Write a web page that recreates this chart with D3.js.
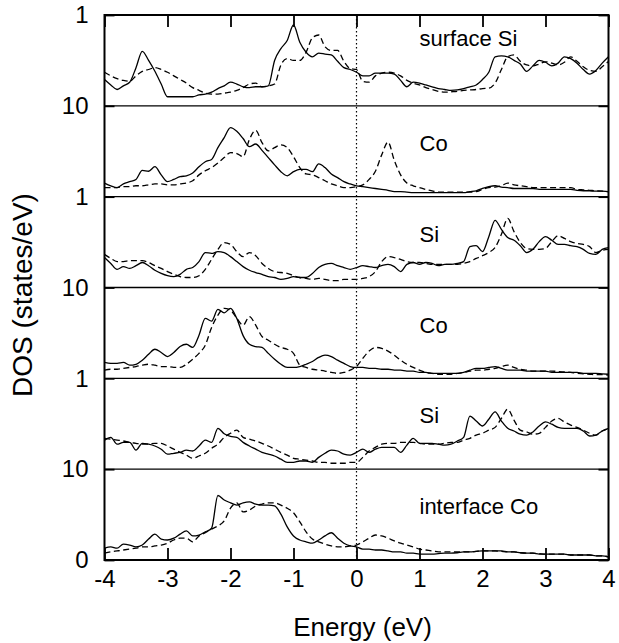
<!DOCTYPE html>
<html>
<head>
<meta charset="utf-8">
<script src="https://cdn.jsdelivr.net/npm/d3@7"></script>
<style>
  body { margin: 0; background: #fff; }
  text { font-family: "Liberation Sans", Arial, Helvetica, sans-serif; fill: #000; }
</style>
</head>
<body>
<div id="plot"></div>
<script>
// energy grid (eV)
var energy = [-4.0,-3.9,-3.8,-3.7,-3.6,-3.5,-3.4,-3.3,-3.2,-3.1,
  -3.0,-2.9,-2.8,-2.7,-2.6,-2.5,-2.4,-2.3,-2.2,-2.1,
  -2.0,-1.9,-1.8,-1.7,-1.6,-1.5,-1.4,-1.3,-1.2,-1.1,
  -1.0,-0.9,-0.8,-0.7,-0.6,-0.5,-0.4,-0.3,-0.2,-0.1,
  0.0,0.1,0.2,0.3,0.4,0.5,0.6,0.7,0.8,0.9,
  1.0,1.1,1.2,1.3,1.4,1.5,1.6,1.7,1.8,1.9,
  2.0,2.1,2.2,2.3,2.4,2.5,2.6,2.7,2.8,2.9,
  3.0,3.1,3.2,3.3,3.4,3.5,3.6,3.7,3.8,3.9,
  4.0];

var panelNames = ["surface Si", "Co", "Si", "Co", "Si", "interface Co"];
var xTicks = [-4, -3, -2, -1, 0, 1, 2, 3, 4];
var yTicks = [0, 10, 20, 30, 40, 50, 60];
var yTickLabels = ["0", "10", "1", "10", "1", "10", "1"];

// DOS per panel (states/eV), solid and dashed curves
var surfSiSolid = [2.9,2.3,1.8,2.2,2.6,4.2,6.0,5.0,3.8,2.4,
  1.0,1.0,1.0,1.0,1.0,1.2,1.3,1.5,1.9,2.2,
  2.6,2.4,2.1,2.0,2.1,2.1,2.2,5.0,6.3,7.2,
  8.9,7.0,5.9,5.4,5.8,5.7,5.6,4.9,4.2,4.0,
  3.7,3.3,3.3,3.6,3.6,3.6,3.5,2.8,2.1,2.6,
  2.5,2.3,2.1,1.9,1.8,1.7,1.75,1.9,2.1,2.3,
  2.9,3.7,5.4,5.5,5.4,5.0,4.6,3.8,4.4,5.0,
  4.8,4.4,4.7,5.4,5.2,4.7,4.0,3.5,3.9,4.7,
  5.4];
var surfSiDashed = [3.7,3.3,3.0,2.8,2.7,3.3,3.8,4.0,4.2,4.0,
  3.7,3.3,2.9,2.5,2.0,1.7,1.4,1.3,1.3,1.4,
  1.5,1.7,2.0,2.4,2.5,2.1,2.2,2.4,4.5,5.2,
  5.0,5.0,5.9,7.5,7.8,6.5,6.1,6.1,4.9,4.1,
  4.0,2.7,2.6,3.3,3.6,3.7,3.6,3.3,2.8,2.5,
  2.3,2.0,1.8,1.6,1.5,1.55,1.6,1.7,1.75,1.8,
  1.9,1.95,2.5,4.0,5.4,5.6,4.9,4.5,4.4,4.6,
  4.85,4.7,4.5,4.8,5.4,4.9,4.3,3.9,3.8,4.3,
  4.9];

var coTopSolid = [1.5,1.2,1.0,1.4,1.65,1.9,2.9,2.8,3.3,2.4,
  1.65,1.9,2.2,2.3,2.6,3.3,3.85,4.1,5.4,6.5,
  7.6,7.2,6.4,5.5,5.8,5.1,4.3,3.5,2.75,2.3,
  2.75,3.0,3.0,2.75,3.6,3.2,2.5,2.1,1.65,1.4,
  1.2,1.1,1.0,0.9,0.8,0.7,0.55,0.55,0.5,0.45,
  0.45,0.45,0.45,0.45,0.45,0.45,0.45,0.45,0.55,0.65,
  0.9,1.1,1.2,1.05,1.0,0.9,0.9,0.9,0.9,0.8,
  0.8,0.8,0.8,0.8,0.8,0.7,0.65,0.65,0.6,0.6,
  0.55];
var coTopDashed = [1.0,1.0,1.0,1.1,1.1,1.2,1.2,1.3,1.4,1.4,
  1.3,1.3,1.4,1.5,1.75,2.4,2.85,3.2,3.7,4.3,
  4.85,4.75,4.4,6.3,7.3,5.95,5.05,5.4,5.7,5.4,
  4.4,3.2,2.5,2.4,2.1,1.75,1.4,1.2,1.0,1.0,
  1.1,1.3,1.9,2.8,4.6,6.0,4.0,2.4,1.5,1.2,
  1.0,0.8,0.65,0.5,0.5,0.5,0.5,0.5,0.5,0.55,
  0.8,1.0,1.05,1.2,1.5,1.3,1.2,1.1,1.0,1.0,
  1.0,1.0,1.0,1.0,1.0,0.8,0.75,0.7,0.65,0.6,
  0.55];

var siMidSolid = [3.3,2.65,2.0,2.3,2.1,2.4,2.75,2.4,1.9,1.55,
  1.3,1.2,1.45,2.0,2.2,2.85,3.85,3.75,3.95,3.85,
  3.4,2.85,2.3,1.9,1.65,1.45,1.2,1.1,0.9,1.0,
  1.2,1.1,1.1,1.55,2.2,2.55,2.65,2.4,2.2,2.0,
  2.2,2.4,2.3,2.2,2.4,2.55,2.3,1.75,2.55,2.75,
  2.55,2.75,2.65,2.4,2.55,2.55,2.65,2.85,4.5,4.6,
  3.95,5.6,7.4,6.4,5.5,5.2,4.6,3.85,4.2,5.05,
  5.6,5.2,4.75,4.75,4.6,4.5,4.2,3.75,3.65,4.2,
  4.4];
var siMidDashed = [3.65,3.2,2.85,2.85,2.95,2.95,2.95,2.75,2.4,2.1,
  1.75,1.45,1.2,1.1,1.1,1.3,2.0,3.1,4.2,4.95,
  4.75,3.95,3.4,3.85,3.5,2.65,2.1,1.75,1.65,1.55,
  1.3,1.1,1.0,0.9,1.0,0.9,0.75,0.75,0.9,0.9,
  0.9,1.0,1.2,1.75,2.85,3.4,3.3,3.1,2.85,2.75,
  2.75,2.65,2.55,2.55,2.55,2.55,2.55,2.65,2.85,3.2,
  3.5,3.85,4.4,5.85,7.6,6.15,4.95,4.3,4.2,4.2,
  4.3,5.05,5.7,5.4,5.05,4.85,4.75,4.5,3.85,4.1,
  4.2];

var coMidSolid = [1.75,1.65,1.65,1.75,1.45,1.55,2.0,2.65,3.2,2.85,
  2.4,2.85,3.5,3.75,3.4,4.75,6.6,6.3,7.6,7.2,
  7.7,6.6,4.7,3.75,3.5,3.4,2.75,2.1,1.55,1.2,
  1.2,1.3,1.55,1.85,2.3,2.55,2.4,2.0,1.65,1.3,
  1.2,1.2,1.1,1.1,1.0,1.0,0.9,0.9,0.8,0.8,
  0.65,0.65,0.55,0.55,0.55,0.55,0.55,0.65,0.9,1.1,
  1.1,1.2,1.3,1.1,0.9,0.9,0.9,0.8,0.8,0.8,
  0.8,0.65,0.65,0.65,0.65,0.65,0.55,0.55,0.55,0.5,
  0.45];
var coMidDashed = [0.9,1.0,1.0,1.1,1.2,1.3,1.45,1.55,1.45,1.3,
  1.3,1.2,1.2,1.55,2.1,2.75,3.65,5.6,6.95,7.7,
  7.5,6.6,5.85,6.8,5.85,4.6,4.2,3.75,3.4,3.2,
  2.75,1.45,1.2,1.0,0.9,0.8,0.65,0.55,0.65,0.9,
  1.3,2.2,3.0,3.4,3.3,3.0,2.55,2.0,1.55,1.2,
  0.9,0.65,0.55,0.45,0.45,0.45,0.55,0.65,0.8,0.9,
  0.9,1.0,1.1,1.3,1.45,1.2,1.0,0.9,0.8,0.8,
  0.8,0.8,0.75,0.7,0.65,0.55,0.5,0.45,0.4,0.4,
  0.35];

var siLowSolid = [3.2,3.5,2.75,2.95,2.95,2.1,2.85,2.75,2.55,2.2,
  1.65,1.75,1.85,2.1,2.0,2.55,3.2,2.95,4.5,3.9,
  3.6,3.5,2.95,2.55,2.2,1.85,1.65,1.45,1.1,0.75,
  0.75,0.9,0.9,0.75,1.3,1.75,2.1,2.0,1.65,1.55,
  1.85,2.2,1.85,2.2,2.4,2.4,2.4,1.85,2.65,3.4,
  2.85,2.85,2.85,2.75,2.65,2.75,3.1,3.5,5.85,5.3,
  4.75,5.5,6.3,5.3,4.5,4.2,3.85,3.75,4.1,4.75,
  5.2,4.95,4.6,4.5,4.5,4.5,4.2,3.65,3.75,4.2,
  4.5];
var siLowDashed = [3.4,3.3,3.2,3.1,2.95,2.85,2.75,2.75,2.85,2.85,
  2.55,2.2,1.85,1.55,1.2,1.45,1.75,2.3,2.75,3.5,
  3.95,4.3,3.5,3.3,3.1,2.85,2.55,2.2,1.85,1.55,
  1.2,1.1,1.0,0.9,0.75,0.75,0.65,0.65,0.65,0.75,
  0.75,1.3,2.0,2.4,2.75,2.85,2.85,2.95,2.95,2.95,
  2.85,2.75,2.75,2.75,2.85,2.95,2.95,3.2,3.4,3.75,
  3.95,4.3,4.6,5.6,6.6,5.4,4.3,4.1,3.85,3.95,
  4.6,5.3,5.6,5.2,4.85,4.6,4.3,3.95,3.75,4.2,
  4.5];

var ifCoSolid = [1.3,1.45,1.3,1.75,1.65,1.45,1.65,2.3,2.85,2.3,
  2.2,2.4,2.85,3.2,2.65,2.75,3.1,3.5,7.1,6.6,
  6.3,6.05,6.3,6.4,6.15,6.05,6.05,5.95,5.05,3.65,
  2.65,2.2,2.0,1.85,2.2,2.65,3.0,2.4,1.85,1.55,
  1.45,1.2,1.2,1.1,1.1,1.0,0.9,0.9,0.75,0.75,
  0.65,0.65,0.65,0.7,0.75,0.75,0.8,0.9,0.9,0.95,
  1.0,1.0,1.0,1.0,0.9,0.9,0.8,0.75,0.75,0.65,
  0.65,0.65,0.65,0.65,0.55,0.55,0.55,0.55,0.45,0.45,
  0.35];
var ifCoDashed = [0.75,0.9,1.0,1.1,1.2,1.3,1.45,1.45,1.55,1.65,
  1.85,2.2,2.4,2.4,2.0,2.65,3.0,3.4,3.75,4.3,
  5.7,6.3,5.3,5.5,5.95,6.15,6.3,6.3,6.05,5.7,
  5.2,4.2,3.1,2.3,2.0,1.75,1.55,1.45,1.45,1.55,
  1.65,2.0,2.4,2.75,2.65,2.4,2.1,1.85,1.65,1.45,
  1.2,1.1,1.0,0.9,0.9,0.9,0.9,0.9,0.9,0.95,
  1.0,1.0,1.0,0.95,0.9,0.9,0.8,0.75,0.75,0.7,
  0.65,0.65,0.65,0.65,0.55,0.55,0.55,0.55,0.45,0.45,
  0.35];

var solidSeries = [surfSiSolid, coTopSolid, siMidSolid, coMidSolid, siLowSolid, ifCoSolid];
var dashedSeries = [surfSiDashed, coTopDashed, siMidDashed, coMidDashed, siLowDashed, ifCoDashed];

// svg bounds
var margin = {top: 15, right: 10.5, bottom: 83, left: 104.5};
var width = 619 - margin.left - margin.right;
var height = 643 - margin.top - margin.bottom;

var svg = d3.select("#plot").append("svg")
    .attr("width", 619)
    .attr("height", 643)
  .append("g")
    .attr("transform", "translate(" + margin.left + "," + margin.top + ")");

var xScale = d3.scaleLinear().domain([-4, 4]).range([0, width]);
// panels are stacked with an offset of 10 states/eV each
var yScale = d3.scaleLinear().domain([0, 60]).range([height, 0]);
var nPanels = panelNames.length;

function offset(i) { return (nPanels - 1 - i) * 10; }

// panel separators
svg.selectAll(".sep")
    .data(yTicks.slice(1, -1))
    .enter().append("line")
    .attr("x1", 0).attr("x2", width)
    .attr("y1", function(d) { return yScale(d); })
    .attr("y2", function(d) { return yScale(d); })
    .attr("stroke", "#000").attr("stroke-width", 1.3);

// Fermi level
svg.append("line")
    .attr("x1", xScale(0)).attr("x2", xScale(0))
    .attr("y1", 0).attr("y2", height)
    .attr("stroke", "#000").attr("stroke-width", 1.2)
    .attr("stroke-dasharray", "1.5,2.5");

// curves
var line = d3.line()
    .x(function(d, i) { return xScale(energy[i]); })
    .curve(d3.curveMonotoneX);

solidSeries.forEach(function(s, i) {
  svg.append("path")
      .datum(s)
      .attr("fill", "none").attr("stroke", "#000").attr("stroke-width", 1.3)
      .attr("d", line.y(function(d) { return yScale(d + offset(i)); }));
});
dashedSeries.forEach(function(s, i) {
  svg.append("path")
      .datum(s)
      .attr("fill", "none").attr("stroke", "#000").attr("stroke-width", 1.3)
      .attr("stroke-dasharray", "6,3.5")
      .attr("d", line.y(function(d) { return yScale(d + offset(i)); }));
});

// axes
function styleAxis(g) {
  g.select(".domain").remove();
  g.selectAll(".tick line").attr("stroke", "#000").attr("stroke-width", 1.8);
  g.selectAll(".tick text").attr("font-size", 24).attr("fill", "#000");
}

svg.append("g")
    .attr("transform", "translate(0," + height + ")")
    .call(d3.axisBottom(xScale).tickValues(xTicks).tickSize(-12).tickPadding(10)
      .tickFormat(function(d) { return String(d); }))
    .call(styleAxis);

svg.append("g")
    .call(d3.axisTop(xScale).tickValues(xTicks).tickSize(-12).tickFormat(""))
    .call(styleAxis);

svg.append("g")
    .call(d3.axisLeft(yScale).tickValues(yTicks).tickSize(-10).tickPadding(16)
      .tickFormat(function(d, i) { return yTickLabels[i]; }))
    .call(styleAxis);

svg.append("g")
    .attr("transform", "translate(" + width + ",0)")
    .call(d3.axisRight(yScale).tickValues(yTicks).tickSize(-10).tickFormat(""))
    .call(styleAxis);

// frame
svg.append("rect")
    .attr("width", width).attr("height", height)
    .attr("fill", "none").attr("stroke", "#000").attr("stroke-width", 2);

// panel labels
svg.selectAll(".plabel")
    .data(panelNames)
    .enter().append("text")
    .attr("x", xScale(1))
    .attr("y", function(d, i) { return yScale(offset(i) + 10) + (i === 0 ? 31 : 45); })
    .attr("font-size", 22)
    .text(function(d) { return d; });

// axis titles
svg.append("text")
    .attr("x", width / 2 + 6)
    .attr("y", height + 76)
    .attr("text-anchor", "middle")
    .attr("font-size", 26)
    .text("Energy (eV)");

svg.append("text")
    .attr("transform", "translate(" + (32 - margin.left) + "," + (295 - margin.top) + ") rotate(-90)")
    .attr("text-anchor", "middle")
    .attr("font-size", 28)
    .text("DOS (states/eV)");
</script>
</body>
</html>
